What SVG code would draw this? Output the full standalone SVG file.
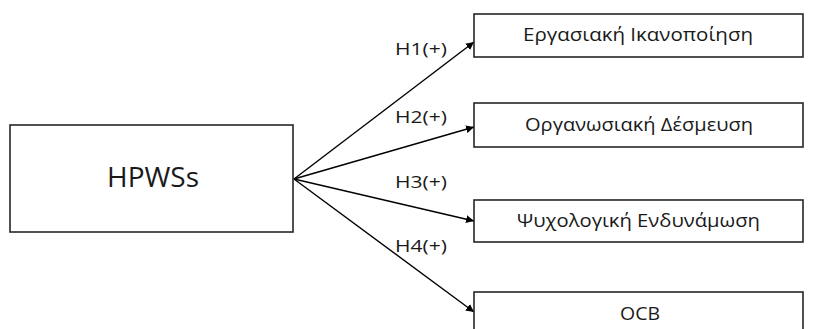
<svg xmlns="http://www.w3.org/2000/svg" width="814" height="329" viewBox="0 0 814 329">
  <style>
    .box { fill: #ffffff; stroke: #262626; stroke-width: 1.6; }
    .edge { stroke: #000000; stroke-width: 1.4; fill: none; }
    .lbl { font-family: "Open Sans", "DejaVu Sans", sans-serif; fill: #1a1a1a; }
    .c { text-anchor: middle; }
  </style>
  <defs>
    <marker id="arr" viewBox="0 0 10 10" refX="10" refY="5" markerWidth="8" markerHeight="8" markerUnits="userSpaceOnUse" orient="auto">
      <path d="M0,0 L10,5 L0,10 z" fill="#000000"/>
    </marker>
  </defs>
  <rect width="814" height="329" fill="#ffffff"/>

  <g id="connectors">
    <line class="edge" x1="294" y1="179" x2="474" y2="42" marker-end="url(#arr)"/>
    <line class="edge" x1="294" y1="179" x2="474" y2="127" marker-end="url(#arr)"/>
    <line class="edge" x1="294" y1="179" x2="474" y2="221" marker-end="url(#arr)"/>
    <line class="edge" x1="294" y1="179" x2="474" y2="312" marker-end="url(#arr)"/>
    <text class="lbl" x="395" y="55" font-size="17" textLength="52" lengthAdjust="spacingAndGlyphs">H1(+)</text>
    <text class="lbl" x="395" y="123" font-size="17" textLength="52" lengthAdjust="spacingAndGlyphs">H2(+)</text>
    <text class="lbl" x="395" y="188" font-size="17" textLength="52" lengthAdjust="spacingAndGlyphs">H3(+)</text>
    <text class="lbl" x="395" y="252" font-size="17" textLength="52" lengthAdjust="spacingAndGlyphs">H4(+)</text>
  </g>

  <g id="hpwss">
    <rect class="box" x="10" y="125" width="283" height="107"/>
    <text class="lbl c" x="153" y="187" font-size="27" textLength="92" lengthAdjust="spacingAndGlyphs">HPWSs</text>
  </g>

  <g id="job-satisfaction">
    <rect class="box" x="474" y="14" width="329" height="43"/>
    <text class="lbl c" x="638" y="41" font-size="17.5" textLength="230" lengthAdjust="spacingAndGlyphs">Εργασιακή Ικανοποίηση</text>
  </g>

  <g id="org-commitment">
    <rect class="box" x="474" y="103" width="329" height="44"/>
    <text class="lbl c" x="639" y="131" font-size="17.5" textLength="228" lengthAdjust="spacingAndGlyphs">Οργανωσιακή Δέσμευση</text>
  </g>

  <g id="empowerment">
    <rect class="box" x="474" y="200" width="329" height="42"/>
    <text class="lbl c" x="638.5" y="227" font-size="17.5" textLength="243" lengthAdjust="spacingAndGlyphs">Ψυχολογική Ενδυνάμωση</text>
  </g>

  <g id="ocb">
    <rect class="box" x="474" y="292" width="329" height="50"/>
    <text class="lbl c" x="640" y="320" font-size="17.5" textLength="40" lengthAdjust="spacingAndGlyphs">OCB</text>
  </g>
</svg>
